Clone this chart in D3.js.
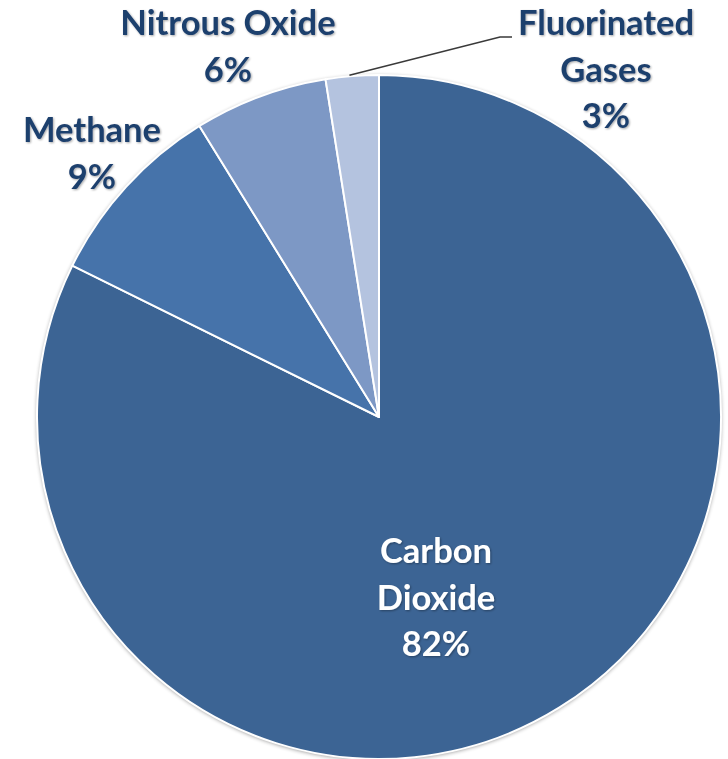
<!DOCTYPE html>
<html>
<head>
<meta charset="utf-8">
<script src="https://cdn.jsdelivr.net/npm/d3@7"></script>
<style>
  html, body { margin: 0; padding: 0; background: #ffffff; }
  svg { display: block; }
</style>
</head>
<body>
<svg id="chart" width="728" height="759"></svg>
<script>
// Data
const categories = ["Carbon Dioxide", "Methane", "Nitrous Oxide", "Fluorinated Gases"];
const values = [82.3, 8.9, 6.3, 2.5];
const valueLabels = ["82%", "9%", "6%", "3%"];
const labelLines = [["Carbon", "Dioxide"], ["Methane"], ["Nitrous Oxide"], ["Fluorinated", "Gases"]];
const colors = ["#3c6494", "#4673aa", "#7d98c5", "#b4c3df"];

const svg = d3.select("#chart");
const cx = 379, cy = 417, R = 342;

const defs = svg.append("defs");
const f = defs.append("filter").attr("id", "sh").attr("x", "-10%").attr("y", "-10%").attr("width", "120%").attr("height", "120%");
f.append("feGaussianBlur").attr("in", "SourceAlpha").attr("stdDeviation", 2).attr("result", "b");
f.append("feOffset").attr("in", "b").attr("dx", 0).attr("dy", 1).attr("result", "o");
f.append("feComponentTransfer").attr("in", "o").attr("result", "o2")
  .append("feFuncA").attr("type", "linear").attr("slope", 0.45);
const m = f.append("feMerge");
m.append("feMergeNode").attr("in", "o2");
m.append("feMergeNode").attr("in", "SourceGraphic");

const tf = defs.append("filter").attr("id", "tsh").attr("x", "-10%").attr("y", "-20%").attr("width", "120%").attr("height", "140%");
tf.append("feGaussianBlur").attr("in", "SourceAlpha").attr("stdDeviation", 0.8).attr("result", "b");
tf.append("feOffset").attr("in", "b").attr("dx", 0.6).attr("dy", 0.8).attr("result", "o");
tf.append("feComponentTransfer").attr("in", "o").attr("result", "o2")
  .append("feFuncA").attr("type", "linear").attr("slope", 0.35);
const tm = tf.append("feMerge");
tm.append("feMergeNode").attr("in", "o2");
tm.append("feMergeNode").attr("in", "SourceGraphic");

const data = categories.map((c, i) => ({ name: c, value: values[i], i }));
const pie = d3.pie().sort(null).value(d => d.value);
const arcs = pie(data);
const arc = d3.arc().innerRadius(0).outerRadius(R);

const g = svg.append("g").attr("transform", `translate(${cx},${cy})`);
g.append("circle").attr("r", R).attr("fill", colors[0]).attr("filter", "url(#sh)");
g.selectAll("path.slice").data(arcs).join("path")
  .attr("class", "slice")
  .attr("d", arc)
  .attr("fill", d => colors[d.data.i])
  .attr("stroke", "#ffffff")
  .attr("stroke-width", 2)
  .attr("stroke-linejoin", "round");

// leader line for fluorinated gases (anchored at its slice's outer edge)
const fl = arcs[3];
const fa = fl.startAngle + (fl.endAngle - fl.startAngle) * 0.45;
const p0 = [cx + Math.sin(fa) * (R + 1), cy - Math.cos(fa) * (R + 1)];
svg.append("path")
  .attr("d", d3.line()([p0, [500, 37], [512, 37]]))
  .attr("fill", "none")
  .attr("stroke", "#3a3a3a")
  .attr("stroke-width", 1.6);

// labels
const labelPos = [
  { x: 436, y: 563, color: "#ffffff" },
  { x: 92, y: 142, color: "#1f3f6d" },
  { x: 228, y: 35, color: "#1f3f6d" },
  { x: 606, y: 35, color: "#1f3f6d" }
];
const lineH = 46.5;
data.forEach((d, i) => {
  const lines = labelLines[i].concat([valueLabels[i]]);
  const t = svg.append("text")
    .attr("text-anchor", "middle")
    .attr("font-family", "Lato, 'Open Sans', sans-serif")
    .attr("font-weight", "bold")
    .attr("font-size", 34.5)
    .attr("fill", labelPos[i].color)
    .attr("filter", "url(#tsh)");
  lines.forEach((ln, k) => {
    t.append("tspan")
      .attr("x", labelPos[i].x)
      .attr("y", labelPos[i].y + k * lineH)
      .text(ln);
  });
});
</script>
</body>
</html>
